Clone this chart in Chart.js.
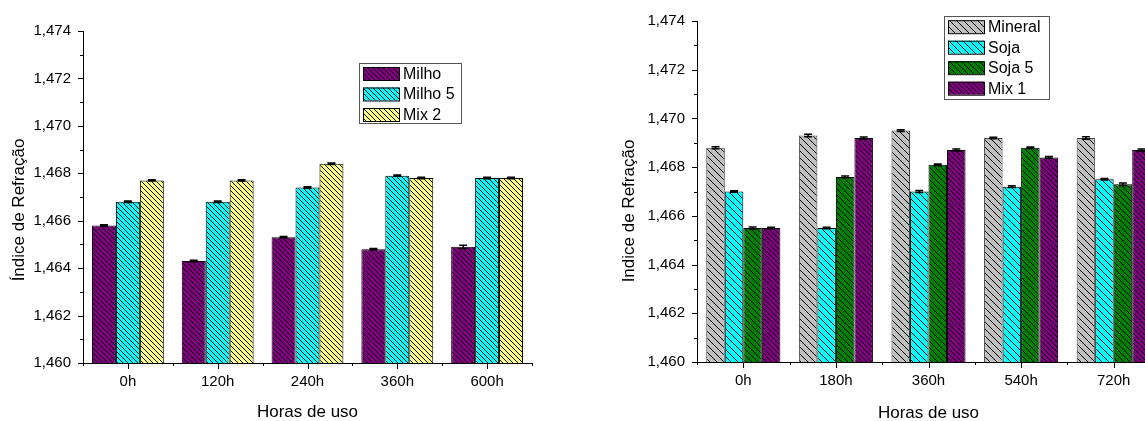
<!DOCTYPE html>
<html>
<head>
<meta charset="utf-8">
<script src="https://cdn.jsdelivr.net/npm/chart.js@4.4.1/dist/chart.umd.min.js"></script>
<style>
body { margin:0; background:#fff; overflow:hidden; }
.box { position:absolute; top:0; }
</style>
</head>
<body>
<div class="box" style="left:0;width:560px;height:421px"><canvas id="chartA" width="560" height="421"></canvas></div>
<div class="box" style="left:600px;width:600px;height:421px"><canvas id="chartB" width="600" height="421"></canvas></div>
<script>
// grafico A - milho
var horasA = ['0h', '120h', '240h', '360h', '600h'];
var milho  = [1.4658, 1.4643, 1.4653, 1.4648, 1.4649];
var milho5 = [1.4668, 1.4668, 1.4674, 1.4679, 1.4678];
var mix2   = [1.4677, 1.4677, 1.4684, 1.4678, 1.4678];
var erroMilho  = [0.00003, 0.00003, 0.00003, 0.00003, 0.00007];
var erroMilho5 = [0.00003, 0.00003, 0.00003, 0.00003, 0.00003];
var erroMix2   = [0.00003, 0.00003, 0.00003, 0.00003, 0.00003];

// grafico B - soja
var horasB = ['0h', '180h', '360h', '540h', '720h'];
var mineral = [1.4688, 1.4693, 1.4695, 1.4692, 1.4692];
var soja    = [1.4670, 1.4655, 1.4670, 1.4672, 1.4675];
var soja5   = [1.4655, 1.4676, 1.4681, 1.4688, 1.4673];
var mix1    = [1.4655, 1.4692, 1.4687, 1.4684, 1.4687];
var erroMineral = [0.00004, 0.00005, 0.00004, 0.00003, 0.00005];
var erroSoja    = [0.00003, 0.00003, 0.00004, 0.00004, 0.00003];
var erroSoja5   = [0.00004, 0.00004, 0.00003, 0.00003, 0.00005];
var erroMix1    = [0.00003, 0.00004, 0.00004, 0.00004, 0.00004];

var yMin = 1.460, yMax = 1.474;
var fonte = 'Liberation Sans, Arial, sans-serif';

function hachura(ctx, cor, n) {
    var c = document.createElement('canvas');
    c.width = n; c.height = n;
    var g = c.getContext('2d');
    g.fillStyle = cor;
    g.fillRect(0, 0, n, n);
    g.strokeStyle = '#000';
    g.lineWidth = 1;
    g.beginPath();
    for (var k = -n; k <= n; k += n) {
        g.moveTo(k, 0);
        g.lineTo(k + n, n);
    }
    g.stroke();
    return ctx.createPattern(c, 'repeat');
}

function virgula(v) {
    return Number(v).toFixed(3).replace('.', ',');
}

// barras de erro, ticks menores, legenda e titulos
var extras = {
    id: 'extras',
    afterDatasetsDraw: function(chart, args, o) {
        var ctx = chart.ctx;
        var x = chart.scales.x, y = chart.scales.y;
        var area = chart.chartArea;
        ctx.save();
        // erro
        ctx.strokeStyle = '#000';
        ctx.lineWidth = 1.5;
        chart.data.datasets.forEach(function(ds, i) {
            var meta = chart.getDatasetMeta(i);
            meta.data.forEach(function(bar, j) {
                var e = o.erros[i][j];
                var t = y.getPixelForValue(ds.data[j] + e);
                var b = y.getPixelForValue(ds.data[j] - e);
                ctx.beginPath();
                ctx.moveTo(bar.x, t); ctx.lineTo(bar.x, b);
                ctx.moveTo(bar.x - 4, t); ctx.lineTo(bar.x + 4, t);
                ctx.moveTo(bar.x - 4, b); ctx.lineTo(bar.x + 4, b);
                ctx.stroke();
            });
        });
        // ticks eixo y
        ctx.lineWidth = 1;
        ctx.beginPath();
        for (var i = 0; i <= 14; i++) {
            var py = Math.round(y.getPixelForValue(yMin + i * 0.001)) + 0.5;
            var len = (i % 2 == 0) ? 5 : 3;
            ctx.moveTo(area.left, py); ctx.lineTo(area.left - len, py);
        }
        // ticks eixo x
        var n = chart.data.labels.length;
        var w = (area.right - area.left) / n;
        for (var k = 0; k <= n; k++) {
            var px = Math.round(area.left + k * w) + 0.5;
            ctx.moveTo(px, area.bottom); ctx.lineTo(px, area.bottom + 3);
            if (k < n) {
                var pc = Math.round(area.left + (k + 0.5) * w) + 0.5;
                ctx.moveTo(pc, area.bottom); ctx.lineTo(pc, area.bottom + 6);
            }
        }
        ctx.stroke();
        // legenda
        var L = o.legenda;
        ctx.strokeStyle = '#555';
        ctx.strokeRect(L.x + 0.5, L.y + 0.5, L.w, L.h);
        ctx.font = '16px ' + fonte;
        ctx.fillStyle = '#000';
        ctx.textBaseline = 'middle';
        ctx.textAlign = 'left';
        chart.data.datasets.forEach(function(ds, i) {
            var ry = L.y + L.first + i * L.step;
            ctx.fillStyle = ds.backgroundColor;
            ctx.fillRect(L.x + 4, ry - 6.5, 36, 13);
            ctx.strokeStyle = '#000';
            ctx.strokeRect(L.x + 4.5, ry - 6, 36, 13);
            ctx.fillStyle = '#000';
            ctx.fillText(ds.label, L.x + 44, ry + 1);
        });
        // titulos
        ctx.font = '17px ' + fonte;
        ctx.textAlign = 'center';
        ctx.fillText('Horas de uso', (area.left + area.right) / 2, o.xTitleY);
        ctx.translate(o.yTitleX, o.yTitleY);
        ctx.rotate(-Math.PI / 2);
        ctx.fillText(o.yTitle, 0, 0);
        ctx.restore();
    }
};

function opcoes(larguraY, alturaX, padTop, padRight, plug) {
    return {
        responsive: false,
        animation: false,
        layout: { padding: { top: padTop, right: padRight, left: 0, bottom: 0 } },
        plugins: { legend: { display: false }, tooltip: { enabled: false }, extras: plug },
        scales: {
            x: {
                grid: { display: false, drawTicks: false },
                border: { display: true, color: '#000', width: 1 },
                ticks: { font: { family: fonte, size: 15 }, color: '#000', padding: 10 },
                afterFit: function(s) { s.height = alturaX; }
            },
            y: {
                min: yMin, max: yMax,
                grid: { display: false, drawTicks: false },
                border: { display: true, color: '#000', width: 1 },
                ticks: { stepSize: 0.002, font: { family: fonte, size: 15 }, color: '#000', padding: 12,
                         callback: function(v) { return virgula(v); } },
                afterFit: function(s) { s.width = larguraY; }
            }
        }
    };
}

function serie(label, data, fundo, borda) {
    return {
        label: label,
        data: data,
        backgroundColor: fundo,
        borderColor: borda,
        borderWidth: 1,
        borderSkipped: 'start',
        categoryPercentage: 0.8,
        barPercentage: 1.0
    };
}

var ctxA = document.getElementById('chartA').getContext('2d');
var chartA = new Chart(ctxA, {
    type: 'bar',
    data: {
        labels: horasA,
        datasets: [
            serie('Milho', milho, hachura(ctxA, '#800080', 5), '#000'),
            serie('Milho 5', milho5, hachura(ctxA, '#00FFFF', 5), '#000'),
            serie('Mix 2', mix2, hachura(ctxA, '#FFFF80', 5), '#000')
        ]
    },
    options: opcoes(83, 58, 31, 28, {
        erros: [erroMilho, erroMilho5, erroMix2],
        legenda: { x: 359, y: 63, w: 102, h: 60, first: 10.5, step: 20.5 },
        xTitleY: 412,
        yTitle: 'Índice de Refração',
        yTitleX: 19,
        yTitleY: 210
    }),
    plugins: [extras]
});

var ctxB = document.getElementById('chartB').getContext('2d');
var chartB = new Chart(ctxB, {
    type: 'bar',
    data: {
        labels: horasB,
        datasets: [
            serie('Mineral', mineral, hachura(ctxB, '#C0C0C0', 7), '#404040'),
            serie('Soja', soja, hachura(ctxB, '#00FFFF', 7), '#000'),
            serie('Soja 5', soja5, hachura(ctxB, '#008000', 6), '#000'),
            serie('Mix 1', mix1, hachura(ctxB, '#800080', 5), '#000')
        ]
    },
    options: opcoes(97, 59, 21, 40, {
        erros: [erroMineral, erroSoja, erroSoja5, erroMix1],
        legenda: { x: 344, y: 16, w: 105, h: 83, first: 10.7, step: 20.5 },
        xTitleY: 413,
        yTitle: 'Indice de Refração',
        yTitleX: 29,
        yTitleY: 211
    }),
    plugins: [extras]
});
</script>
</body>
</html>
